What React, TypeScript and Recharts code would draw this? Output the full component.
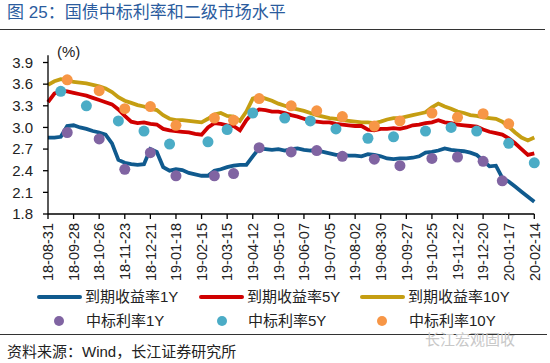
import { LineChart, Line, XAxis, YAxis } from "recharts";

// weekly dates, 18-08-31 .. 20-02-14 (tick every 4 weeks)
const tickLabels = [
    "18-08-31", "18-09-28", "18-10-26", "18-11-23", "18-12-21",
    "19-01-18", "19-02-15", "19-03-15", "19-04-12", "19-05-10",
    "19-06-07", "19-07-05", "19-08-02", "19-08-30", "19-09-27",
    "19-10-25", "19-11-22", "19-12-20", "20-01-17", "20-02-14",
];

const yield1Y = [
    2.86, 2.86, 2.87, 3.02, 3.03, 3.0, 2.98, 2.95, 2.93, 2.9,
    2.78, 2.55, 2.51, 2.49, 2.48, 2.49, 2.7, 2.66, 2.45, 2.4,
    2.42, 2.41, 2.37, 2.35, 2.33, 2.33, 2.4, 2.42, 2.45, 2.47,
    2.48, 2.48, 2.6, 2.71, 2.7, 2.69, 2.7, 2.68, 2.7, 2.71,
    2.69, 2.68, 2.68, 2.66, 2.64, 2.62, 2.62, 2.61, 2.61, 2.6,
    2.63, 2.62, 2.6, 2.57, 2.56, 2.57, 2.57, 2.58, 2.6, 2.65,
    2.66, 2.68, 2.71, 2.69, 2.68, 2.67, 2.65, 2.62, 2.54, 2.46,
    2.47, 2.3, 2.25, 2.18, 2.11, 2.04, 1.97,
];

const yield5Y = [
    3.35, 3.47, 3.51, 3.5, 3.48, 3.46, 3.44, 3.41, 3.38, 3.35,
    3.32, 3.25, 3.16, 3.08, 3.06, 3.07, 3.05, 3.04, 2.98, 2.96,
    2.95, 2.94, 2.93, 2.91, 2.9, 3.0, 3.06, 3.05, 3.03, 3.02,
    2.96, 3.1, 3.2, 3.25, 3.24, 3.22, 3.22, 3.2, 3.17, 3.15,
    3.12, 3.09, 3.08, 3.07, 3.07, 3.05, 3.04, 3.03, 3.02, 3.02,
    2.97, 2.96, 2.98, 2.98, 2.99, 2.98, 3.0, 3.03, 3.04, 3.06,
    3.07, 3.1, 3.07, 3.06, 3.04, 3.03, 3.02, 3.01, 2.97, 2.94,
    2.92, 2.9, 2.85, 2.78, 2.7, 2.62, 2.64,
];

const yield10Y = [
    3.59, 3.64, 3.67, 3.66, 3.63, 3.62, 3.61, 3.59, 3.57, 3.54,
    3.49, 3.42, 3.37, 3.34, 3.31, 3.29, 3.26, 3.24, 3.17, 3.12,
    3.1, 3.1, 3.09, 3.08, 3.07, 3.12, 3.18, 3.2, 3.16, 3.15,
    3.09, 3.22, 3.4, 3.43, 3.4, 3.37, 3.33, 3.3, 3.27, 3.25,
    3.23, 3.2, 3.17, 3.15, 3.13, 3.12, 3.1, 3.09, 3.08, 3.07,
    3.07, 3.06, 3.08, 3.11, 3.13, 3.13, 3.15, 3.17, 3.19, 3.21,
    3.28, 3.33, 3.29, 3.26, 3.22, 3.2, 3.17, 3.16, 3.14, 3.13,
    3.12, 3.08, 3.01, 2.93, 2.86, 2.82, 2.86,
];

// auction results: [week index, rate]
const auction1Y = [
    [3, 2.93], [8, 2.84], [12, 2.42], [16, 2.65], [20, 2.33], [26, 2.33],
    [29, 2.36], [33, 2.72], [38, 2.66], [42, 2.68], [46, 2.6], [51, 2.56],
    [55, 2.47], [60, 2.57], [64, 2.59], [68, 2.53], [71, 2.26],
];
const auction5Y = [
    [2, 3.5], [6, 3.3], [11, 3.09], [15, 2.95], [19, 2.77], [25, 2.8],
    [28, 2.97], [32, 3.2], [37, 3.13], [41, 3.09], [45, 2.98], [50, 2.85],
    [54, 2.87], [59, 2.95], [63, 3.0], [67, 2.95], [72, 2.78], [76, 2.51],
];
const auction10Y = [
    [3, 3.66], [8, 3.51], [12, 3.26], [16, 3.29], [20, 3.03], [26, 3.13],
    [29, 3.1], [33, 3.4], [38, 3.3], [42, 3.23], [46, 3.15], [51, 3.02],
    [55, 3.09], [60, 3.2], [64, 3.14], [68, 3.19], [72, 3.05],
];

const yTicks = [1.8, 2.1, 2.4, 2.7, 3.0, 3.3, 3.6, 3.9];

const C1 = "#105a8e";
const C5 = "#d00000";
const C10 = "#c59e12";
const P1 = "#8064a2";
const P5 = "#4bacc6";
const P10 = "#f79646";

const FONT = "Arial, 'Liberation Sans', 'Noto Sans CJK SC', sans-serif";

const lookup = (arr: number[][], i: number) => {
    const hit = arr.find((p) => p[0] === i);
    return hit ? hit[1] : null;
};

const data = yield1Y.map((v, i) => ({
    idx: i,
    y1: v,
    y5: yield5Y[i],
    y10: yield10Y[i],
    a1: lookup(auction1Y, i),
    a5: lookup(auction5Y, i),
    a10: lookup(auction10Y, i),
}));

const DateTick = (props: any) => {
    const { x, y, payload } = props;
    const label = payload.value % 4 === 0 ? tickLabels[payload.value / 4] : "";
    return (
        <g transform={`translate(${x},${y})`}>
            <text
                transform="rotate(-90)"
                textAnchor="end"
                dy="0.36em"
                fontSize={14.5}
                fill="#222"
                fontFamily={FONT}
            >
                {label}
            </text>
        </g>
    );
};

const legendText: React.CSSProperties = {
    position: "absolute",
    fontSize: 15,
    color: "#222",
    lineHeight: "18px",
    whiteSpace: "nowrap",
};

const LegLine = ({ x, color, label }: { x: number; color: string; label: string }) => (
    <>
        <div
            style={{
                position: "absolute",
                left: x,
                top: 295,
                width: 45,
                height: 4,
                borderRadius: 2,
                background: color,
            }}
        />
        <div style={{ ...legendText, left: x + 48, top: 288 }}>{label}</div>
    </>
);

const LegDot = ({ x, textX, color, label }: { x: number; textX: number; color: string; label: string }) => (
    <>
        <div
            style={{
                position: "absolute",
                left: x - 5,
                top: 316,
                width: 10,
                height: 10,
                borderRadius: 5,
                background: color,
            }}
        />
        <div style={{ ...legendText, left: textX, top: 312 }}>{label}</div>
    </>
);

export default function App() {
    const dotLine = (key: string, color: string) => (
        <Line
            dataKey={key}
            stroke="none"
            isAnimationActive={false}
            dot={{ r: 5.5, fill: color, stroke: "none" }}
            activeDot={false}
            connectNulls={false}
        />
    );

    return (
        <div
            style={{
                position: "absolute",
                left: 0,
                top: 0,
                width: 550,
                height: 363,
                background: "#fff",
                fontFamily: FONT,
                overflow: "hidden",
            }}
        >
            <div
                style={{
                    position: "absolute",
                    left: 7,
                    top: 3,
                    fontSize: 17,
                    color: "#2b5c9e",
                    whiteSpace: "nowrap",
                    lineHeight: "20px",
                }}
            >
                图 25：国债中标利率和二级市场水平
            </div>
            <div
                style={{
                    position: "absolute",
                    left: 0,
                    top: 28.5,
                    width: 545,
                    height: 1.5,
                    background: "#333",
                }}
            />

            <div style={{ position: "absolute", left: 0, top: 0 }}>
                <LineChart
                    width={550}
                    height={290}
                    data={data}
                    margin={{ top: 55.3, right: 15.7, bottom: 0, left: 8 }}
                >
                    <XAxis
                        dataKey="idx"
                        type="category"
                        scale="point"
                        interval={3}
                        height={76}
                        tick={<DateTick />}
                        tickSize={5}
                        tickMargin={4}
                        axisLine={{ stroke: "#000", strokeWidth: 1.3 }}
                        tickLine={{ stroke: "#000", strokeWidth: 1.3 }}
                    />
                    <YAxis
                        type="number"
                        domain={[1.8, 4.0]}
                        ticks={yTicks}
                        interval={0}
                        width={40}
                        tickSize={5}
                        tickMargin={10}
                        tickFormatter={(v: number) => v.toFixed(1)}
                        tick={{ fontSize: 15, fill: "#222", fontFamily: FONT }}
                        axisLine={{ stroke: "#000", strokeWidth: 1.3 }}
                        tickLine={{ stroke: "#000", strokeWidth: 1.3 }}
                        allowDataOverflow
                    />
                    <Line dataKey="y10" stroke={C10} strokeWidth={3.8} dot={false} isAnimationActive={false} />
                    <Line dataKey="y5" stroke={C5} strokeWidth={3.8} dot={false} isAnimationActive={false} />
                    <Line dataKey="y1" stroke={C1} strokeWidth={3.8} dot={false} isAnimationActive={false} />
                    {dotLine("a1", P1)}
                    {dotLine("a5", P5)}
                    {dotLine("a10", P10)}
                </LineChart>
            </div>

            <div
                style={{
                    position: "absolute",
                    left: 57,
                    top: 43,
                    fontSize: 15,
                    color: "#222",
                    lineHeight: "18px",
                }}
            >
                (%)
            </div>

            <LegLine x={37} color={C1} label="到期收益率1Y" />
            <LegLine x={199} color={C5} label="到期收益率5Y" />
            <LegLine x={360} color={C10} label="到期收益率10Y" />
            <LegDot x={59} textX={86} color={P1} label="中标利率1Y" />
            <LegDot x={222} textX={248} color={P5} label="中标利率5Y" />
            <LegDot x={382} textX={409} color={P10} label="中标利率10Y" />

            <div
                style={{
                    position: "absolute",
                    left: 0,
                    top: 333.5,
                    width: 547,
                    height: 1.2,
                    background: "#333",
                }}
            />
            <div
                style={{
                    position: "absolute",
                    left: 425,
                    top: 331,
                    fontSize: 15,
                    color: "#c8c8c8",
                    lineHeight: "18px",
                    whiteSpace: "nowrap",
                }}
            >
                长江宏观固收
            </div>
            <div
                style={{
                    position: "absolute",
                    left: 7,
                    top: 343,
                    fontSize: 15,
                    color: "#222",
                    lineHeight: "18px",
                    whiteSpace: "nowrap",
                }}
            >
                资料来源：Wind，长江证券研究所
            </div>
        </div>
    );
}
